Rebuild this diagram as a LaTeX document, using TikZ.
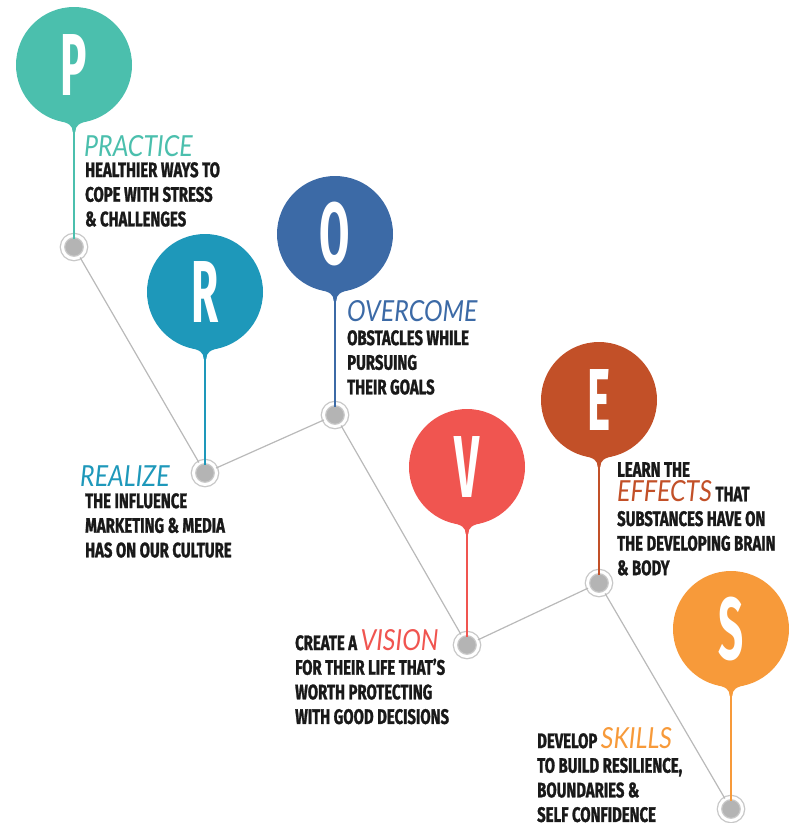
\documentclass[tikz,border=0pt]{standalone}
\usepackage{fontspec}
\usetikzlibrary{calc,positioning}
\newfontfamily\condfont[FakeStretch=0.71,FakeBold=1.2]{Fira Sans}
\newfontfamily\handfont[FakeStretch=0.86]{Lato}
\newfontfamily\letterfont[FakeStretch=0.5]{Fira Sans}
\definecolor{colP}{RGB}{75,191,173}
\definecolor{colR}{RGB}{30,152,186}
\definecolor{colO}{RGB}{60,106,166}
\definecolor{colV}{RGB}{240,85,80}
\definecolor{colE}{RGB}{194,80,40}
\definecolor{colS}{RGB}{247,154,58}
\definecolor{pinfill}{RGB}{180,180,180}
\definecolor{pinring}{RGB}{200,200,200}
\definecolor{trackgray}{RGB}{185,185,185}
\definecolor{ink}{RGB}{25,25,25}
\newcommand\handword[2]{\smash{\textcolor{#1}{\handfont\mdseries\itshape\fontsize{29}{24.5}\selectfont #2}}}

\begin{document}
\begin{tikzpicture}[x=1pt,y=-1pt,
		bubble/.style={circle,fill=#1,minimum size=116pt,inner sep=0pt,text=white,
			font=\letterfont\bfseries\fontsize{88}{88}\selectfont},
		stem/.style={draw=#1,line width=2.6pt},
		pinnode/.style={circle,minimum size=23pt,inner sep=0pt,fill=pinfill,draw=pinring,
			line width=1.3pt,double=white,double distance=3pt},
		trackline/.style={draw=trackgray,line width=1.2pt},
		body/.style={anchor=north west,inner sep=0pt,align=left,text=ink,
			font=\condfont\bfseries\fontsize{21}{24.6}\selectfont},
		hand/.style={anchor=base west,inner sep=0pt,text=#1,
			font=\handfont\itshape\fontsize{29}{29}\selectfont}]
	\useasboundingbox (0,0) rectangle (797,823);

	% pins along the track
	\node[pinnode] (pinP) at (74,247) {};
	\node[pinnode] (pinR) at (205,473) {};
	\node[pinnode] (pinO) at (335,415) {};
	\node[pinnode] (pinV) at (467,645) {};
	\node[pinnode] (pinE) at (599,583) {};
	\node[pinnode] (pinS) at (731,809) {};
	\draw[trackline] (pinP) -- (pinR) -- (pinO) -- (pinV) -- (pinE) -- (pinS);

	% bubbles
	\node[bubble=colP] (P) at (74,65) {P};
	\node[bubble=colR] (R) at (205,292) {R};
	\node[bubble=colO] (O) at (335,234) {O};
	\node[bubble=colV] (V) at (467,467) {V};
	\node[bubble=colE] (E) at (599,400) {E};
	\node[bubble=colS] (S) at (731,629) {S};

	\foreach \b/\c in {P/colP,R/colR,O/colO,V/colV,E/colE,S/colS}{
		\fill[\c] ($(\b.south)+(-16,-3)$) .. controls ($(\b.south)+(-5,0)$) and ($(\b.south)+(-1.3,2)$) .. ($(\b.south)+(-1.3,9)$)
			-- ($(\b.south)+(1.3,9)$) .. controls ($(\b.south)+(1.3,2)$) and ($(\b.south)+(5,0)$) .. ($(\b.south)+(16,-3)$) -- cycle;
		\draw[stem=\c,shorten >=-4pt] (\b.south) -- (pin\b);
	}

	% texts
	\node[hand=colP] (handP) at (84,156) {PRACTICE};
	\node[body] (textP) at (85,162) {HEALTHIER WAYS TO\\COPE WITH STRESS\\\& CHALLENGES};

	\node[hand=colR] (handR) at (80,486) {REALIZE};
	\node[body] (textR) at (85,493) {THE INFLUENCE\\MARKETING \& MEDIA\\HAS ON OUR CULTURE};

	\node[hand=colO] (handO) at (347,321) {OVERCOME};
	\node[body] (textO) at (347,330) {OBSTACLES WHILE\\PURSUING\\THEIR GOALS};

	\node[body] (textV) at (295,635) {CREATE A \handword{colV}{VISION}\\FOR THEIR LIFE THAT’S\\WORTH PROTECTING\\WITH GOOD DECISIONS};

	\node[body] (textE) at (617,462) {LEARN THE\\\handword{colE}{EFFECTS} THAT\\SUBSTANCES HAVE ON\\THE DEVELOPING BRAIN\\\& BODY};

	\node[body] (textS) at (537,733) {DEVELOP \handword{colS}{SKILLS}\\TO BUILD RESILIENCE,\\BOUNDARIES \&\\SELF CONFIDENCE};
\end{tikzpicture}
\end{document}
